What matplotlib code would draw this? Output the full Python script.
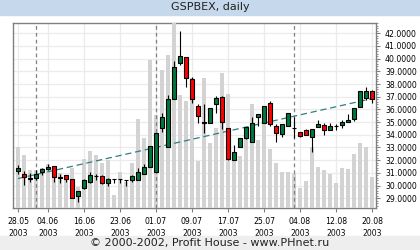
import matplotlib
matplotlib.use('Agg')
import matplotlib.pyplot as plt
from matplotlib.patches import Rectangle
from matplotlib.ticker import MultipleLocator, FormatStrFormatter, FixedLocator

# daily candles, 28.05.2003 - 20.08.2003 (60 trading days)
opens = [31.17, 30.94, 30.55, 30.57, 31.04, 31.30, 31.52, 30.62, 30.83, 30.52,
         29.20, 29.78, 30.31, 30.72, 30.78, 30.18, 30.49, 30.49, 30.44, 30.44,
         30.44, 30.94, 31.49, 31.04, 34.51, 33.02, 36.80, 39.68, 40.11, 38.40,
         36.27, 34.96, 34.96, 36.41, 37.00, 34.51, 32.02, 33.02, 33.73, 33.41,
         35.43, 34.96, 36.48, 34.72, 34.04, 34.72, 34.55, 34.20, 34.38, 33.80,
         34.64, 34.77, 34.38, 34.71, 34.80, 34.98, 35.25, 36.17, 36.93, 37.45]
highs = [31.62, 31.15, 31.02, 31.22, 31.41, 31.70, 31.55, 30.94, 30.85, 30.55,
         29.60, 30.52, 31.04, 30.94, 30.80, 30.62, 30.52, 30.52, 30.47, 30.85,
         31.36, 31.70, 33.12, 34.12, 35.70, 37.14, 39.84, 42.18, 40.15, 38.58,
         36.43, 36.43, 36.09, 37.06, 37.05, 34.55, 33.17, 33.72, 34.64, 35.38,
         35.62, 36.30, 36.69, 34.85, 34.83, 35.70, 35.43, 34.25, 34.45, 34.46,
         35.17, 34.96, 34.96, 34.85, 35.17, 35.62, 36.12, 37.48, 37.74, 37.53]
lows = [30.91, 30.04, 30.31, 30.44, 30.83, 31.22, 30.31, 30.23, 30.31, 29.00,
        28.73, 29.73, 30.23, 30.44, 30.10, 29.97, 30.23, 30.20, 29.97, 30.30,
        30.44, 30.94, 31.49, 31.04, 34.25, 33.02, 36.80, 39.50, 37.79, 36.48,
        34.95, 34.12, 34.96, 35.74, 34.46, 31.98, 32.02, 33.02, 33.70, 33.41,
        34.69, 34.90, 34.69, 33.46, 33.80, 34.72, 33.73, 33.85, 33.95, 32.62,
        34.60, 33.99, 34.38, 34.38, 34.55, 34.98, 35.05, 36.17, 36.75, 36.53]
closes = [31.41, 30.67, 30.58, 30.94, 31.30, 31.49, 30.65, 30.68, 30.52, 29.00,
          29.57, 30.44, 30.83, 30.78, 30.18, 30.52, 30.50, 30.50, 30.45, 30.78,
          31.09, 31.49, 33.12, 34.12, 35.38, 36.80, 39.32, 40.21, 38.45, 36.82,
          35.51, 34.98, 36.09, 36.88, 35.03, 32.07, 32.67, 33.72, 34.64, 34.95,
          35.62, 36.27, 34.83, 34.17, 34.83, 35.70, 34.57, 33.91, 33.99, 34.46,
          34.83, 34.38, 34.69, 34.73, 34.98, 35.17, 36.09, 37.48, 37.45, 36.80]
volumes = [61, 53, 38, 38, 40, 44, 38, 35, 28, 40,
           21, 49, 57, 53, 45, 48, 13, 36, 26, 45,
           89, 70, 148, 93, 138, 153, 185, 113, 107, 130,
           47, 130, 65, 80, 135, 114, 53, 52, 71, 104,
           68, 90, 59, 45, 36, 36, 34, 20, 27, 61,
           41, 38, 34, 25, 40, 39, 54, 65, 61, 31]

tick_days = [0, 5, 11, 17, 23, 29, 35, 41, 47, 53, 59]
tick_labels = ['28.05\n2003', '04.06\n2003', '16.06\n2003', '23.06\n2003',
               '01.07\n2003', '09.07\n2003', '17.07\n2003', '25.07\n2003',
               '04.08\n2003', '12.08\n2003', '20.08\n2003']
month_starts = [3, 23, 46]
trend_days = [0, 59]
trend_values = [30.55, 36.85]

up_color = '#00773d'
down_color = '#ff0000'
frame = '#808080'

plt.rcParams['font.family'] = 'DejaVu Sans'

fig = plt.figure(figsize=(4.2, 2.5), dpi=100)
fig.patches.append(Rectangle((0, 0.94), 1, 0.06, transform=fig.transFigure,
                             color='#c6d9ec', zorder=0))
fig.patches.append(Rectangle((0, 0), 1, 0.056, transform=fig.transFigure,
                             color='#eeeeee', zorder=0))
fig.text(0.5, 0.971, 'GSPBEX, daily', ha='center', va='center', fontsize=8,
         color='#222222')
fig.text(0.5, 0.028, '\u00a9 2000-2002, Profit House - www.PHnet.ru',
         ha='center', va='center', fontsize=8, color='#222222')

rect = [13 / 420, 42 / 250, 363 / 420, 185 / 250]
days = list(range(len(opens)))

# price axes: grid, frame and labels
ax = fig.add_axes(rect)
ax.set_xlim(-0.83, 59.67)
ax.set_ylim(28.23, 42.81)

# volume bars
ax_v = ax.twinx()
ax_v.set_ylim(0, 185)
ax_v.bar(days, volumes, width=0.67, color='#d3d3d3', zorder=1)
ax_v.set_yticks([])
for s in ax_v.spines.values():
    s.set_visible(False)

ax.yaxis.tick_right()
ax.yaxis.set_label_position('right')
ax.yaxis.set_major_locator(MultipleLocator(1))
ax.yaxis.set_minor_locator(MultipleLocator(0.2))
ax.yaxis.set_major_formatter(FormatStrFormatter('%.4f'))
ax.xaxis.set_major_locator(FixedLocator(tick_days))
ax.set_xticklabels(tick_labels, linespacing=1.45)
ax.tick_params(axis='both', which='major', labelsize=5.6, color=frame,
               length=3, width=0.8, pad=3.5)
ax.tick_params(axis='y', which='minor', color=frame, length=1.5, width=0.6)
ax.grid(True, which='major', color='#ebebeb', linewidth=0.9)
ax.set_axisbelow(True)
for s in ax.spines.values():
    s.set_color(frame)
    s.set_linewidth(1.0)

# candles, month separators and trend on top
ax_c = fig.add_axes(rect, sharex=ax, sharey=ax)
ax_c.patch.set_visible(False)
ax_c.axis('off')
for d in month_starts:
    ax_c.axvline(d, color='#808080', linewidth=0.9, linestyle=(0, (3, 2.5)), zorder=1)
ax_c.plot(trend_days, trend_values, color='#2f7f7c', linewidth=0.9,
          linestyle=(0, (5, 3)), zorder=2)
ax_c.vlines(days, lows, highs, color='black', linewidth=0.8, zorder=3)
bottoms = [min(o, c) for o, c in zip(opens, closes)]
heights = [abs(c - o) for o, c in zip(opens, closes)]
colors = [up_color if c >= o else down_color for o, c in zip(opens, closes)]
ax_c.bar(days, heights, bottom=bottoms, width=0.67, color=colors,
         edgecolor='black', linewidth=0.8, zorder=4)

fig.savefig('out.png', dpi=100)
